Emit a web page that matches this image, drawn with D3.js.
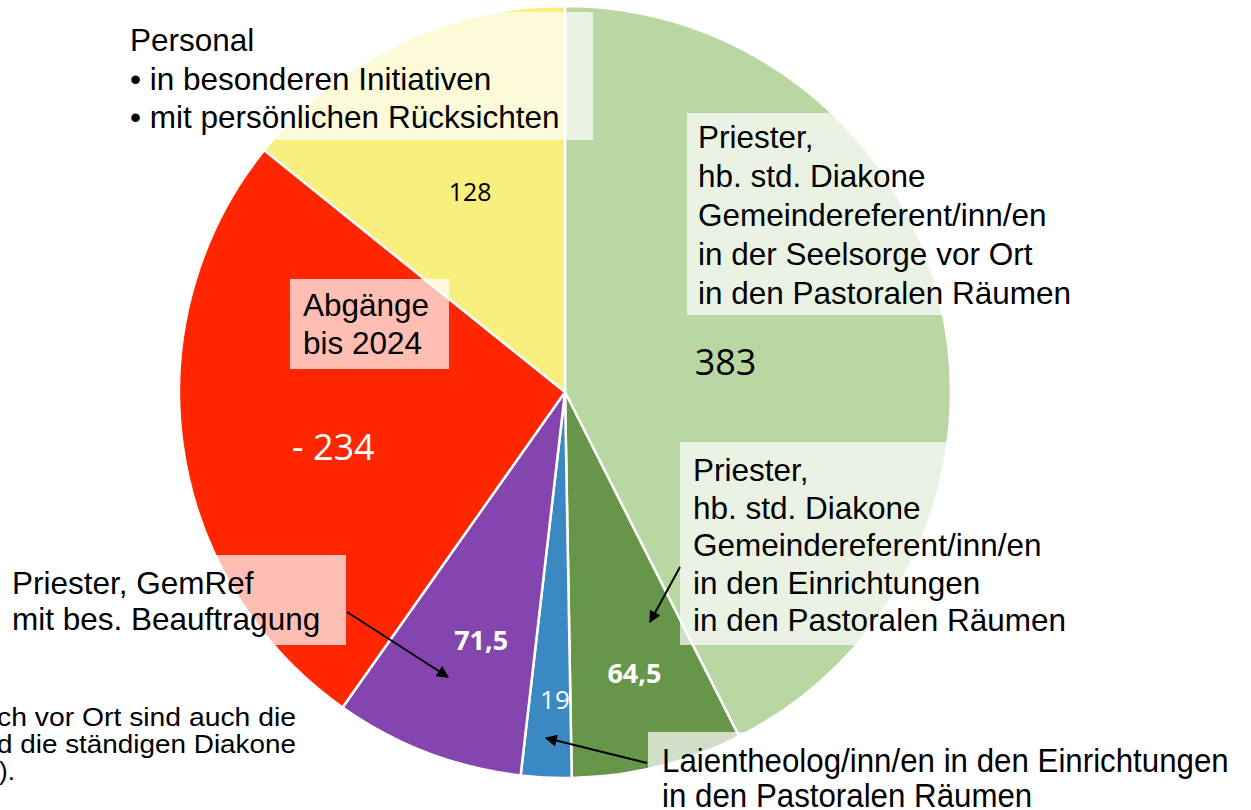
<!DOCTYPE html>
<html>
<head>
<meta charset="utf-8">
<script src="https://cdn.jsdelivr.net/npm/d3@7"></script>
<style>
  body { margin: 0; background: #fff; }
  svg { display: block; }
</style>
</head>
<body>
<div id="chart"></div>
<script>
// slices clockwise from 12 o'clock
var categories = ["Seelsorge vor Ort", "Einrichtungen", "Laientheologen", "bes. Beauftragung", "Abgänge bis 2024", "Personal Initiativen"]
var values = [383, 64.5, 19, 71.5, 234, 128]
var valueLabels = ["383", "64,5", "19", "71,5", "- 234", "128"]
var colors = ["#B8D7A2", "#67954A", "#3B89C3", "#8446AE", "#FF2600", "#F9EF7E"]

// label styling (radius from centre, nudges, size, weight, colour)
var labelStyle = [
  { r: 163, dx: 2, dy: 21, size: 36, weight: 400, fill: "#000" },
  { r: 289, dx: 0, dy: 10, size: 27, weight: 700, fill: "#fff" },
  { r: 308, dx: 5, dy: 9, size: 26, weight: 400, fill: "#fff" },
  { r: 263, dx: 10, dy: 12, size: 27, weight: 700, fill: "#fff" },
  { r: 237, dx: 3, dy: 35, size: 36, weight: 400, fill: "#fff" },
  { r: 222, dx: 1, dy: 9, size: 25, weight: 400, fill: "#000" }
]

var W = 1251, H = 810
var cx = 565, cy = 392, R = 386

var svg = d3.select("#chart").append("svg")
  .attr("width", W)
  .attr("height", H)

var g = svg.append("g").attr("transform", "translate(" + cx + "," + cy + ")")

var pie = d3.pie().sort(null).value(d => d)
var arcs = pie(values)
var arc = d3.arc().innerRadius(0).outerRadius(R)

g.selectAll("path.slice")
  .data(arcs)
  .enter()
  .append("path")
  .attr("class", "slice")
  .attr("d", arc)
  .attr("fill", (d, i) => colors[i])
  .attr("stroke", "white")
  .attr("stroke-width", 2.5)

// semi transparent label boxes
var boxes = [
  { x: 118, y: 12, w: 475, h: 128 },
  { x: 687, y: 113, w: 400, h: 202 },
  { x: 680, y: 442, w: 400, h: 203 },
  { x: 290, y: 279, w: 159, h: 90 },
  { x: 0, y: 555, w: 346, h: 90 },
  { x: 648, y: 732, w: 603, h: 80 }
]

svg.selectAll("rect.box")
  .data(boxes)
  .enter()
  .append("rect")
  .attr("class", "box")
  .attr("x", d => d.x)
  .attr("y", d => d.y)
  .attr("width", d => d.w)
  .attr("height", d => d.h)
  .attr("fill", "white")
  .attr("fill-opacity", 0.7)

// value labels
g.selectAll("text.val")
  .data(arcs)
  .enter()
  .append("text")
  .attr("class", "val")
  .attr("x", (d, i) => Math.sin((d.startAngle + d.endAngle) / 2) * labelStyle[i].r + labelStyle[i].dx)
  .attr("y", (d, i) => -Math.cos((d.startAngle + d.endAngle) / 2) * labelStyle[i].r + labelStyle[i].dy)
  .attr("text-anchor", "middle")
  .attr("font-family", "'Open Sans', sans-serif")
  .attr("font-size", (d, i) => labelStyle[i].size)
  .attr("font-weight", (d, i) => labelStyle[i].weight)
  .attr("fill", (d, i) => labelStyle[i].fill)
  .text((d, i) => valueLabels[i])

// category text blocks
var blocks = [
  { x: 130, y: 51, step: 38.5, lines: ["Personal", "• in besonderen Initiativen", "• mit persönlichen Rücksichten"] },
  { x: 698, y: 148, step: 39, lines: ["Priester,", "hb. std. Diakone", "Gemeindereferent/inn/en", "in der Seelsorge vor Ort", "in den Pastoralen Räumen"] },
  { x: 693, y: 481, step: 37.5, lines: ["Priester,", "hb. std. Diakone", "Gemeindereferent/inn/en", "in den Einrichtungen", "in den Pastoralen Räumen"] },
  { x: 303, y: 316, step: 38, lines: ["Abgänge", "bis 2024"] },
  { x: 12, y: 594, step: 36, lines: ["Priester, GemRef", "mit bes. Beauftragung"] }
]

blocks.forEach(function (b) {
  var t = svg.append("text")
    .attr("font-family", "'Liberation Sans', Arial, sans-serif")
    .attr("font-size", 31.5)
    .attr("fill", "#000")
  b.lines.forEach(function (l, i) {
    t.append("tspan").attr("x", b.x).attr("y", b.y + i * b.step).text(l)
  })
})

// condensed label at the bottom
var laien = svg.append("text")
  .attr("transform", "translate(662,0) scale(0.92,1)")
  .attr("font-family", "'Liberation Sans', Arial, sans-serif")
  .attr("font-size", 34)
laien.append("tspan").attr("x", 0).attr("y", 772).text("Laientheolog/inn/en in den Einrichtungen")
laien.append("tspan").attr("x", 0).attr("y", 807).text("in den Pastoralen Räumen")

// footnote cut off at the left edge
var noteFont = { family: "'Liberation Sans', Arial, sans-serif", size: 26 }
svg.append("text")
  .attr("x", -3).attr("y", 726)
  .attr("font-family", noteFont.family).attr("font-size", noteFont.size)
  .attr("textLength", 299).attr("lengthAdjust", "spacingAndGlyphs")
  .text("ch vor Ort sind auch die")
svg.append("text")
  .attr("x", -3).attr("y", 753)
  .attr("font-family", noteFont.family).attr("font-size", noteFont.size)
  .attr("textLength", 299).attr("lengthAdjust", "spacingAndGlyphs")
  .text("d die ständigen Diakone")
svg.append("text")
  .attr("x", -1).attr("y", 780)
  .attr("font-family", noteFont.family).attr("font-size", noteFont.size)
  .text(").")

// arrows
svg.append("defs").append("marker")
  .attr("id", "head")
  .attr("viewBox", "0 0 10 10")
  .attr("refX", 9)
  .attr("refY", 5)
  .attr("markerUnits", "userSpaceOnUse")
  .attr("markerWidth", 14)
  .attr("markerHeight", 12)
  .attr("orient", "auto")
  .append("path")
  .attr("d", "M0,0 L10,5 L0,10 z")
  .attr("fill", "#000")

var arrows = [
  [347, 612, 448, 677],
  [680, 567, 650, 622],
  [647, 763, 546, 738]
]

svg.selectAll("line.arrow")
  .data(arrows)
  .enter()
  .append("line")
  .attr("class", "arrow")
  .attr("x1", d => d[0])
  .attr("y1", d => d[1])
  .attr("x2", d => d[2])
  .attr("y2", d => d[3])
  .attr("stroke", "#000")
  .attr("stroke-width", 2)
  .attr("marker-end", "url(#head)")
</script>
</body>
</html>
